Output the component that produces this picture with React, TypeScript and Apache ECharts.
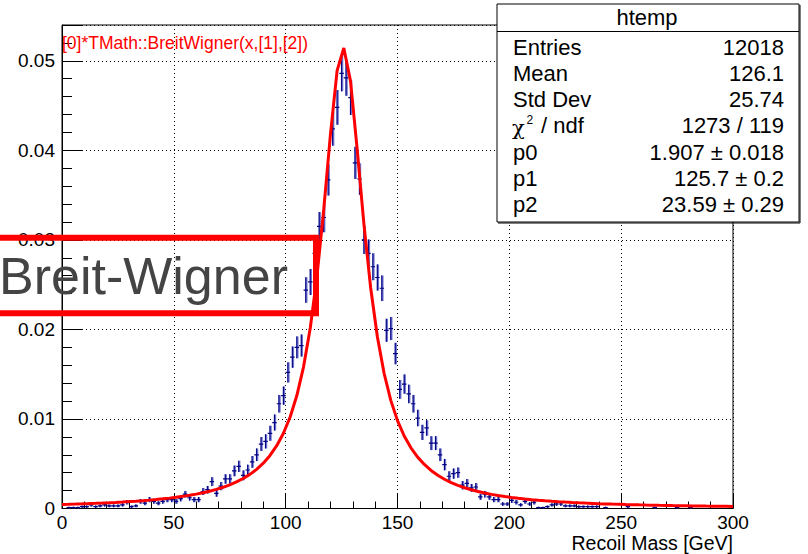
import React, { useEffect, useRef } from "react";
import * as echarts from "echarts";

// ---- data ----
const ENTRIES = 12018;
const BIN_WIDTH = 2; // GeV, 150 bins over 0..300
const X_MIN = 0;
const X_MAX = 300;
const Y_MAX = 0.054;

// bin contents (centres 1, 3, 5, ... 299); null = empty bin
const binValues: (number | null)[] = [
  null, 0.0001, 0.0001, 0.0001, 0.0002, 0.0002, 0.0004, 0.0002, 0.0003, 0.0004,
  0.0003, 0.0003, 0.0003, 0.0004, 0.0007, 0.0002, 0.0003, 0.0008, 0.0006, 0.0010,
  0.0008, 0.0006, 0.0008, 0.0010, 0.0010, 0.0008, 0.0011, 0.0016, 0.0012, 0.0010,
  0.0010, 0.0019, 0.0021, 0.0030, 0.0017, 0.0025, 0.0033, 0.0033, 0.0042, 0.0047,
  0.0037, 0.0043, 0.0052, 0.0060, 0.0072, 0.0075, 0.0084, 0.0096, 0.0117, 0.0126,
  0.0152, 0.0169, 0.0180, 0.0182, 0.0244, 0.0253, 0.0285, 0.0315, 0.0325, 0.0367,
  0.0424, 0.0448, 0.0486, 0.0481, 0.0459, 0.0386, 0.0368, 0.0300, 0.0285, 0.0270,
  0.0258, 0.0246, 0.0199, 0.0201, 0.0173, 0.0133, 0.0139, 0.0128, 0.0117, 0.0101,
  0.0085, 0.0090, 0.0073, 0.0073, 0.0060, 0.0049, 0.0036, 0.0039, 0.0040, 0.0026,
  0.0028, 0.0023, 0.0024, 0.0013, 0.0016, 0.0013, 0.0010, 0.0010, 0.0005, 0.0005,
  0.0009, 0.0007, 0.0004, 0.0008, 0.0005, 0.0007, 0.0001, 0.0001, 0.0002, 0.0004,
  0.0005, 0.0005, 0.0003, 0.0003, 0.0003, 0.0002, 0.0002, 0.0002, 0.0002, 0.0002,
  null, 0.0001, null, null, null, null, 0.0002, null, null, null,
  null, null, 0.0001, null, null, null, null, 0.0001, null, null,
  0.0001, null, null, null, null, null, null, null, null, null,
];

// fit curve samples at x = 0, 3, 6, ... 300
const FIT_STEP = 3;
const fitValues = [
  0.000449, 0.000471, 0.000495, 0.00052, 0.000548, 0.000578, 0.00061, 0.000645, 0.000683, 0.000725,
  0.00077, 0.00082, 0.000875, 0.000935, 0.001002, 0.001076, 0.001159, 0.001252, 0.001356, 0.001474,
  0.001607, 0.001759, 0.001933, 0.002135, 0.002369, 0.002642, 0.002966, 0.00335, 0.003813, 0.004374,
  0.005065, 0.005925, 0.007011, 0.008404, 0.010217, 0.012615, 0.015827, 0.020158, 0.025942, 0.033332,
  0.041723, 0.048904, 0.051433, 0.04773, 0.040042, 0.031736, 0.024655, 0.019185, 0.015105, 0.012078,
  0.009813, 0.008096, 0.006773, 0.005737, 0.004915, 0.004253, 0.003713, 0.003268, 0.002896, 0.002584,
  0.002319, 0.002092, 0.001897, 0.001727, 0.001579, 0.001449, 0.001334, 0.001233, 0.001142, 0.001061,
  0.000988, 0.000923, 0.000863, 0.00081, 0.000761, 0.000716, 0.000675, 0.000638, 0.000603, 0.000572,
  0.000542, 0.000515, 0.00049, 0.000467, 0.000445, 0.000425, 0.000406, 0.000388, 0.000372, 0.000356,
  0.000342, 0.000328, 0.000315, 0.000303, 0.000291, 0.000281, 0.00027, 0.000261, 0.000252, 0.000243,
  0.000235,
];

const yTickValues = [0, 0.01, 0.02, 0.03, 0.04, 0.05];
const statsTitle = "htemp";
const statsLabels = ["Entries", "Mean", "Std Dev", "CHI", "p0", "p1", "p2"];
const statsValues = ["12018", "126.1", "25.74", "1273 / 119", "1.907 \u00b1 0.018", "125.7 \u00b1 0.2", "23.59 \u00b1 0.29"];
const fitFormula = "[0]*TMath::BreitWigner(x,[1],[2])";
const overlayLabel = "Breit-Wigner";
const xAxisTitle = "Recoil Mass [GeV]";

const FONT = "'Liberation Sans', Arial, Helvetica, sans-serif";

export default function App() {
  const ref = useRef<HTMLDivElement>(null);

  useEffect(() => {
    document.body.style.margin = "0";
    if (!ref.current) return;
    const chart = echarts.init(ref.current, null, { renderer: "svg" });

    const histData = binValues
      .map((v, i) => (v === null ? null : [X_MIN + (i + 0.5) * BIN_WIDTH, v, Math.sqrt(v / ENTRIES)]))
      .filter((d) => d !== null) as number[][];
    const fitData = fitValues.map((v, i) => [X_MIN + i * FIT_STEP, v]);

    // stats box
    const SB = { x: 497, y: 4, w: 302, h: 218 };
    const rowYs = [47, 73.2, 99.4, 125.8, 152, 178, 204];
    const statsGraphics: any[] = [
      { type: "rect", z: 100, shape: { x: SB.x, y: SB.y, width: SB.w, height: SB.h }, style: { fill: "#fff", stroke: "#000", lineWidth: 1 } },
      { type: "line", z: 101, shape: { x1: SB.x + SB.w + 1, y1: SB.y + 1, x2: SB.x + SB.w + 1, y2: SB.y + SB.h + 1 }, style: { stroke: "#000", lineWidth: 1 } },
      { type: "line", z: 101, shape: { x1: SB.x + 1, y1: SB.y + SB.h + 1, x2: SB.x + SB.w + 1, y2: SB.y + SB.h + 1 }, style: { stroke: "#000", lineWidth: 1 } },
      { type: "line", z: 101, shape: { x1: SB.x, y1: 31.5, x2: SB.x + SB.w, y2: 31.5 }, style: { stroke: "#000", lineWidth: 1 } },
      { type: "text", z: 102, x: 647, y: 17, style: { text: statsTitle, font: `22px ${FONT}`, fill: "#000", align: "center", verticalAlign: "middle" } },
    ];
    statsLabels.forEach((lab, k) => {
      const y = rowYs[k];
      if (lab === "CHI") {
        statsGraphics.push(
          { type: "text", z: 102, x: 512, y: y + 2, style: { text: "\u03c7", font: `21px 'DejaVu Serif', serif`, fill: "#000", align: "left", verticalAlign: "middle" } },
          { type: "text", z: 102, x: 526.5, y: y - 6, style: { text: "2", font: `12px ${FONT}`, fill: "#000", align: "left", verticalAlign: "middle" } },
          { type: "text", z: 102, x: 535, y: y, style: { text: " / ndf", font: `22px ${FONT}`, fill: "#000", align: "left", verticalAlign: "middle" } }
        );
      } else {
        statsGraphics.push({ type: "text", z: 102, x: 513, y, style: { text: lab, font: `22px ${FONT}`, fill: "#000", align: "left", verticalAlign: "middle" } });
      }
      statsGraphics.push({ type: "text", z: 102, x: 784, y, style: { text: statsValues[k], font: `22px ${FONT}`, fill: "#000", align: "right", verticalAlign: "middle" } });
    });

    const option: any = {
      animation: false,
      backgroundColor: "#fff",
      grid: {
        left: 62, top: 25, right: 75, bottom: 45.5,
        show: true, borderColor: "#000", borderWidth: 1,
        containLabel: false, outerBoundsMode: "none",
      },
      xAxis: {
        type: "value",
        min: X_MIN,
        max: X_MAX,
        interval: 50,
        axisLine: { show: true, lineStyle: { color: "#000", width: 1 } },
        axisTick: { show: true, inside: true, length: 14.5, lineStyle: { color: "#000" } },
        minorTick: { show: true, splitNumber: 5, length: 7, lineStyle: { color: "#000" } },
        axisLabel: { fontSize: 19, fontFamily: FONT, color: "#000", margin: 4 },
        splitLine: { show: true, lineStyle: { color: "#000", type: [1, 3], width: 1 } },
      },
      yAxis: {
        type: "value",
        min: 0,
        max: Y_MAX,
        interval: 0.01,
        axisLine: { show: true, lineStyle: { color: "#000", width: 1 } },
        axisTick: { show: true, inside: true, length: 20, lineStyle: { color: "#000" } },
        minorTick: { show: true, splitNumber: 5, length: 10, lineStyle: { color: "#000" } },
        axisLabel: {
          fontSize: 19,
          fontFamily: FONT,
          color: "#000",
          margin: 7,
          formatter: (v: number) => {
            const hit = yTickValues.find((t) => Math.abs(t - v) < 1e-9);
            if (hit === undefined) return "";
            return hit === 0 ? "0" : hit.toFixed(2);
          },
        },
        splitLine: { show: true, lineStyle: { color: "#000", type: [1, 3], width: 1 } },
      },
      series: [
        {
          type: "custom",
          name: "htemp",
          clip: true,
          data: histData,
          z: 3,
          renderItem: (params: any, api: any) => {
            const x = api.value(0);
            const y = api.value(1);
            const e = api.value(2);
            const top = api.coord([x, y + e]);
            const bot = api.coord([x, Math.max(y - e, 0)]);
            const l = api.coord([x - BIN_WIDTH / 2, y]);
            const r = api.coord([x + BIN_WIDTH / 2, y]);
            return {
              type: "group",
              children: [
                { type: "line", shape: { x1: top[0] + 0.5, y1: top[1], x2: bot[0] + 0.5, y2: bot[1] }, style: { stroke: "#6e74cc", lineWidth: 2.4 } },
                { type: "line", shape: { x1: top[0], y1: top[1], x2: bot[0], y2: bot[1] }, style: { stroke: "#000080", lineWidth: 1 } },
                { type: "line", shape: { x1: l[0], y1: l[1], x2: r[0], y2: r[1] }, style: { stroke: "#000080", lineWidth: 1.2 } },
              ],
            };
          },
        },
        {
          type: "line",
          name: "fit",
          data: fitData,
          showSymbol: false,
          symbol: "none",
          z: 5,
          lineStyle: { color: "#ff0000", width: 3 },
        },
      ],
      graphic: [
        { type: "text", z: 90, x: 62, y: 43, style: { text: fitFormula, font: `17.5px ${FONT}`, fill: "#ff0000", align: "left", verticalAlign: "middle" } },
        { type: "text", z: 90, x: 733, y: 543, style: { text: xAxisTitle, font: `19.5px ${FONT}`, fill: "#000", align: "right", verticalAlign: "middle" } },
        ...statsGraphics,
        { type: "text", z: 110, x: -1, y: 276, style: { text: overlayLabel, font: `52px ${FONT}`, fill: "#444444", align: "left", verticalAlign: "middle" } },
        { type: "rect", z: 111, shape: { x: -10, y: 237.8, width: 326, height: 75.5 }, style: { fill: "none", stroke: "#ff0000", lineWidth: 6 } },
      ],
    };

    chart.setOption(option);
    return () => chart.dispose();
  }, []);

  return <div ref={ref} style={{ width: 808, height: 554 }} />;
}
